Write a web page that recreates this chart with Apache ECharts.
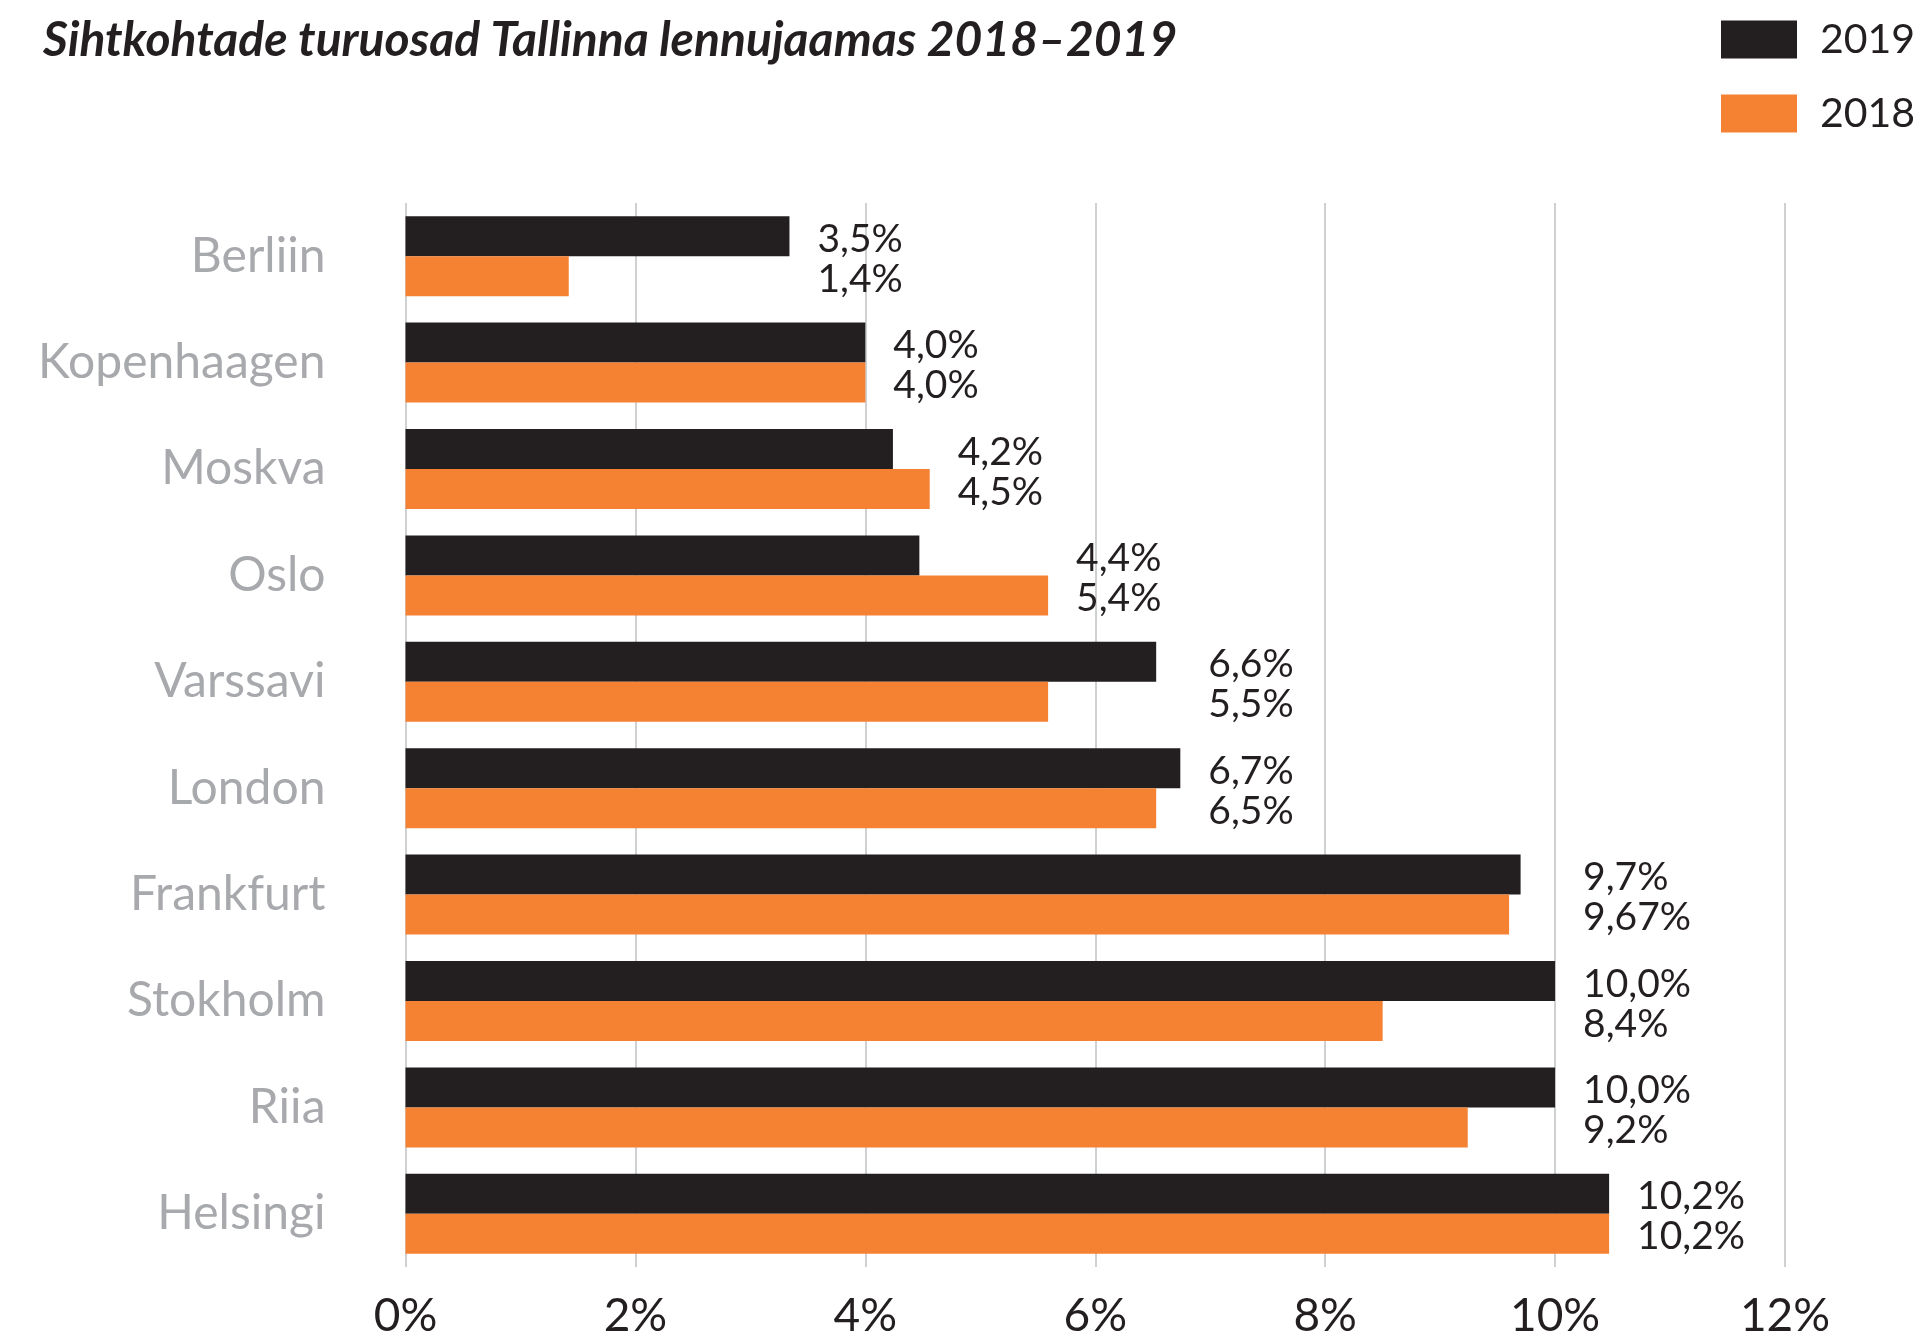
<!DOCTYPE html>
<html>
<head>
<meta charset="utf-8">
<script src="https://cdn.jsdelivr.net/npm/echarts@6/dist/echarts.min.js"></script>
<style>
  html, body { margin: 0; padding: 0; background: #fff; }
  #main { width: 1921px; height: 1339px; }
</style>
</head>
<body>
<div id="main"></div>
<script>
var cities = ['Berliin', 'Kopenhaagen', 'Moskva', 'Oslo', 'Varssavi', 'London', 'Frankfurt', 'Stokholm', 'Riia', 'Helsingi'];
// bar lengths as drawn in the picture (%)
var share2019 = [3.34, 4.0, 4.24, 4.47, 6.53, 6.74, 9.7, 10.0, 10.0, 10.47];
var share2018 = [1.42, 4.0, 4.56, 5.59, 5.59, 6.53, 9.6, 8.5, 9.24, 10.47];
// printed value labels
var text2019 = ['3,5%', '4,0%', '4,2%', '4,4%', '6,6%', '6,7%', '9,7%', '10,0%', '10,0%', '10,2%'];
var text2018 = ['1,4%', '4,0%', '4,5%', '5,4%', '5,5%', '6,5%', '9,67%', '8,4%', '9,2%', '10,2%'];
var xTicks = [0, 2, 4, 6, 8, 10, 12];

var ink = '#231f20', orange = '#f58232', grey = '#a7a9ac';
var font = 'Lato, "Noto Sans", sans-serif';

// label column sits right of the longer bar, shared with the next city when they are close
var pairMax = cities.map(function (c, i) { return Math.max(share2019[i], share2018[i]); });
var labelData = cities.map(function (c, i) {
  var x = pairMax[i];
  if (i + 1 < cities.length && pairMax[i + 1] > x && pairMax[i + 1] - x < 0.35) x = pairMax[i + 1];
  return { value: [x, c], name: text2019[i] + '\n' + text2018[i] };
});

var myChart = echarts.init(document.getElementById('main'));

var option = {
  animation: false,
  textStyle: { fontFamily: font },
  title: {
    text: 'Sihtkohtade turuosad Tallinna lennujaamas 2018–2019',
    left: 38, top: 12,
    textStyle: { fontFamily: font, fontSize: 48, fontWeight: 'bold', fontStyle: 'italic', color: ink }
  },
  legend: {
    data: ['2019', '2018'],
    orient: 'vertical',
    left: 1721, top: 19,
    padding: 0,
    itemWidth: 76, itemHeight: 38, itemGap: 33,
    icon: 'rect',
    textStyle: { fontFamily: font, fontSize: 41, color: ink, padding: [0, 0, 0, 18] }
  },
  grid: { left: 405.5, right: 136, top: 203, bottom: 70 },
  xAxis: {
    type: 'value',
    min: xTicks[0], max: xTicks[xTicks.length - 1], interval: 2,
    axisLine: { show: false },
    axisTick: { show: false },
    splitLine: { lineStyle: { color: '#cfd0d2', width: 2 } },
    axisLabel: { formatter: '{value}%', fontFamily: font, fontSize: 46, color: ink, margin: 26 }
  },
  yAxis: {
    type: 'category',
    data: cities,
    inverse: true,
    axisLine: { show: false },
    axisTick: { show: false },
    axisLabel: { fontFamily: font, fontSize: 48, color: grey, margin: 80, padding: [6, 0, 0, 0] }
  },
  series: [
    { name: '2019', type: 'bar', data: share2019, barWidth: 40, barGap: '0%', itemStyle: { color: ink } },
    { name: '2018', type: 'bar', data: share2018, barWidth: 40, barGap: '0%', itemStyle: { color: orange } },
    {
      name: 'labels', type: 'scatter', data: labelData,
      symbolSize: 0, silent: true,
      itemStyle: { opacity: 1 },
      label: {
        show: true, position: 'right', distance: 28, offset: [0, 3], opacity: 1,
        formatter: function (p) { return p.name; },
        fontFamily: font, fontSize: 39, lineHeight: 40, color: ink
      }
    }
  ]
};
myChart.setOption(option);
</script>
</body>
</html>
